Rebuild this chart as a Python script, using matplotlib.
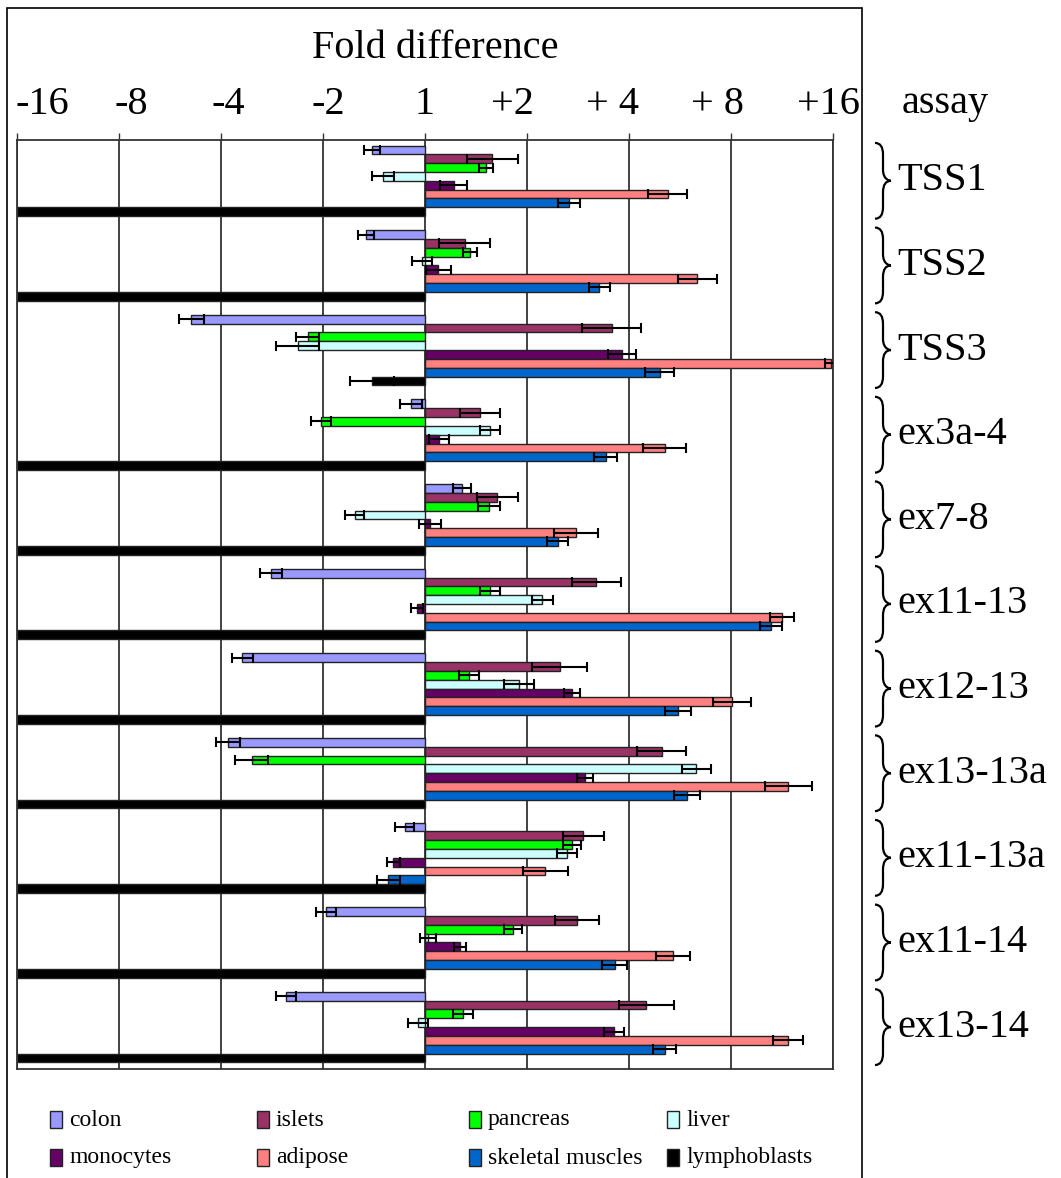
import numpy as np
import matplotlib
matplotlib.use("Agg")
import matplotlib.pyplot as plt
from matplotlib.patches import Rectangle, PathPatch
from matplotlib.path import Path
from matplotlib.transforms import blended_transform_factory, ScaledTranslation

# Data (log2 fold difference)
assays = ["TSS1", "TSS2", "TSS3", "ex3a-4", "ex7-8", "ex11-13", "ex12-13",
          "ex13-13a", "ex11-13a", "ex11-14", "ex13-14"]
tissues = ["colon", "islets", "pancreas", "liver", "monocytes", "adipose",
           "skeletal muscles", "lymphoblasts"]
colors = ["#9999FF", "#993366", "#00FF00", "#CCFFFF", "#660066", "#FF8080",
          "#0066CC", "#000000"]

colon = [-0.52, -0.58, -2.29, -0.14, 0.36, -1.51, -1.79, -1.93, -0.20, -0.97, -1.36]
colon_err = [0.08, 0.08, 0.12, 0.11, 0.09, 0.11, 0.10, 0.12, 0.09, 0.10, 0.10]
islets = [0.66, 0.39, 1.83, 0.54, 0.71, 1.68, 1.32, 2.32, 1.55, 1.49, 2.17]
islets_err = [0.25, 0.25, 0.29, 0.20, 0.20, 0.24, 0.27, 0.24, 0.20, 0.22, 0.27]
pancreas = [0.60, 0.44, -1.15, -1.02, 0.63, 0.64, 0.43, -1.70, 1.44, 0.86, 0.37]
pancreas_err = [0.07, 0.07, 0.11, 0.10, 0.11, 0.10, 0.10, 0.16, 0.09, 0.09, 0.10]
liver = [-0.41, -0.03, -1.25, 0.64, -0.69, 1.15, 0.92, 2.66, 1.39, 0.03, -0.07]
liver_err = [0.11, 0.10, 0.21, 0.10, 0.09, 0.10, 0.15, 0.14, 0.10, 0.08, 0.10]
monocytes = [0.28, 0.13, 1.93, 0.14, 0.05, -0.08, 1.44, 1.57, -0.31, 0.34, 1.85]
monocytes_err = [0.13, 0.12, 0.14, 0.10, 0.11, 0.06, 0.08, 0.08, 0.06, 0.06, 0.10]
adipose = [2.38, 2.67, 3.98, 2.35, 1.48, 3.50, 3.01, 3.56, 1.18, 2.43, 3.56]
adipose_err = [0.19, 0.19, 0.06, 0.21, 0.22, 0.12, 0.19, 0.23, 0.22, 0.17, 0.15]
skeletal = [1.41, 1.71, 2.30, 1.77, 1.30, 3.39, 2.48, 2.57, -0.36, 1.86, 2.35]
skeletal_err = [0.11, 0.10, 0.14, 0.11, 0.10, 0.11, 0.13, 0.13, 0.11, 0.12, 0.11]
lympho = [-4, -4, -0.52, -4, -4, -4, -4, -4, -4, -4, -4]
lympho_err = [np.nan, np.nan, 0.22, np.nan, np.nan, np.nan, np.nan, np.nan, np.nan, np.nan, np.nan]

xticks = [-4, -3, -2, -1, 0, 1, 2, 3, 4]
xticklabels = ["-16", "-8", "-4", "-2", "1", "+2", "+ 4", "+ 8", "+16"]

values = [colon, islets, pancreas, liver, monocytes, adipose, skeletal, lympho]
errors = [colon_err, islets_err, pancreas_err, liver_err, monocytes_err,
          adipose_err, skeletal_err, lympho_err]

plt.rcParams['font.family'] = ['Liberation Serif', 'DejaVu Serif']

W, H = 1061, 1178
fig = plt.figure(figsize=(W / 100, H / 100), dpi=100)
ax = fig.add_axes([17 / W, 1 - 1069 / H, (833 - 17) / W, (1069 - 140) / H])

group_step = 9.6
base = np.arange(len(assays)) * group_step

for j, tissue in enumerate(tissues):
    y = base + j
    ax.barh(y, values[j], height=1.0, color=colors[j], edgecolor="#222222",
            linewidth=1.0, zorder=2)
    err = np.array(errors[j], dtype=float)
    ok = ~np.isnan(err)
    ax.errorbar(np.array(values[j])[ok], y[ok], xerr=err[ok], fmt="none",
                ecolor="black", elinewidth=1.5, capsize=3.6, capthick=1.5, zorder=3)

ax.set_xlim(-4, 4)
ax.set_ylim(base[-1] + 7 + 1.25, -1.13)
ax.set_yticks([])
ax.set_xticks(xticks)
ax.set_xticklabels([])
ax.xaxis.tick_top()
ax.tick_params(axis="x", length=5, width=1, color="#333333")
ax.grid(axis="x", color="#333333", linewidth=1.3)
ax.set_axisbelow(True)
for s in ax.spines.values():
    s.set_color("#333333")
    s.set_linewidth(1.3)

# tick labels, nudged like in the original (pixel offsets)
label_shift = [25, 12, 7, 5, -1, -15, -17, -14, -5]
top_trans = blended_transform_factory(ax.transData, fig.transFigure)
for xv, lab, dx in zip(xticks, xticklabels, label_shift):
    ax.text(xv, 1 - 104 / H, lab, fontsize=29, ha="center", va="center",
            transform=top_trans + ScaledTranslation(dx / 100, 0, fig.dpi_scale_trans))

# titles
fig.text(435 / W, 1 - 48 / H, "Fold difference", fontsize=29, ha="center", va="center")
fig.text(945 / W, 1 - 103 / H, "assay", fontsize=29, ha="center", va="center")

# outer frame
fig.patches.append(Rectangle((7 / W, -0.05), (862 - 7) / W, 1 - 8 / H + 0.05,
                             transform=fig.transFigure, fill=False,
                             edgecolor="black", linewidth=1.2))

# curly braces and assay labels on the right
trans = blended_transform_factory(fig.transFigure, ax.transData)
x0, xm, x1 = 875 / W, 883 / W, 891 / W
for i, name in enumerate(assays):
    top = base[i] - 0.8
    bot = base[i] + 7.8
    mid = (top + bot) / 2
    r = 1.3
    verts = [(x0, top), (xm, top), (xm, top + r),
             (xm, mid - r),
             (xm, mid), (x1, mid), (x1, mid),
             (xm, mid), (xm, mid + r),
             (xm, bot - r),
             (xm, bot), (x0, bot)]
    codes = [Path.MOVETO, Path.CURVE3, Path.CURVE3,
             Path.LINETO,
             Path.CURVE4, Path.CURVE4, Path.CURVE4,
             Path.CURVE3, Path.CURVE3,
             Path.LINETO,
             Path.CURVE3, Path.CURVE3]
    fig.patches.append(PathPatch(Path(verts, codes), transform=trans, fill=False,
                                 edgecolor="black", linewidth=1.6))
    fig.text(897 / W, mid, name, transform=trans, fontsize=29,
             ha="left", va="center")

# legend
leg_x = [50, 257, 469, 667]
leg_y = [1120, 1158]
for k, tissue in enumerate(tissues):
    px = leg_x[k % 4]
    py = leg_y[k // 4]
    fig.patches.append(Rectangle((px / W, 1 - (py + 8) / H), 12 / W, 17 / H,
                                 transform=fig.transFigure, facecolor=colors[k],
                                 edgecolor="#222222", linewidth=1.0))
    fig.text((px + 19) / W, 1 - py / H, tissue, fontsize=17, ha="left", va="center")

fig.savefig("out.png", dpi=100)
